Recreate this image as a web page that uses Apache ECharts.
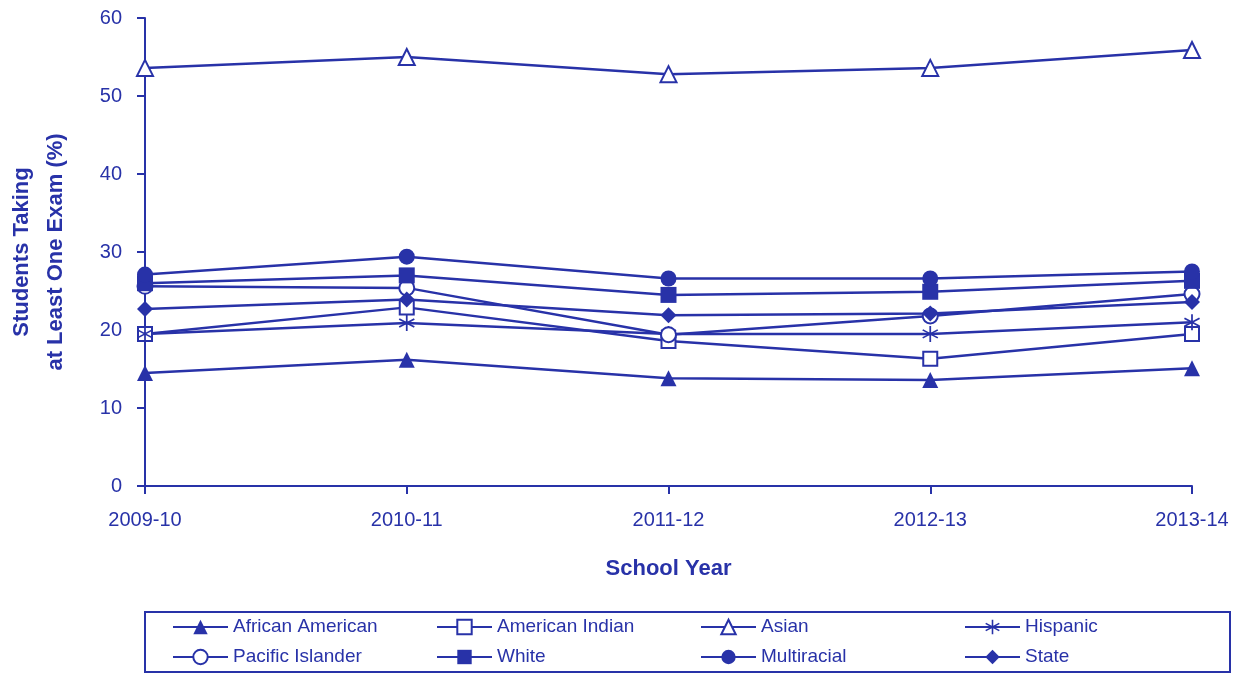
<!DOCTYPE html>
<html>
<head>
<meta charset="utf-8">
<script src="https://cdn.jsdelivr.net/npm/echarts@6/dist/echarts.min.js"></script>
<style>
html,body{margin:0;padding:0;background:#fff;}
#chart{width:1242px;height:673px;}
</style>
</head>
<body>
<div id="chart"></div>
<script>
const categories = ['2009-10', '2010-11', '2011-12', '2012-13', '2013-14'];
const africanAmerican = [14.5, 16.2, 13.8, 13.6, 15.1];
const americanIndian = [19.5, 22.9, 18.6, 16.3, 19.5];
const asian = [53.6, 55.0, 52.8, 53.6, 55.9];
const hispanic = [19.5, 20.9, 19.5, 19.5, 21.0];
const pacificIslander = [25.6, 25.4, 19.4, 21.8, 24.6];
const white = [26.0, 27.0, 24.5, 24.9, 26.3];
const multiracial = [27.1, 29.4, 26.6, 26.6, 27.5];
const stateAvg = [22.7, 23.9, 21.9, 22.1, 23.6];
const yTicks = [0, 10, 20, 30, 40, 50, 60];

const C = '#2832A8';
const FONT = '"Liberation Sans", Arial, sans-serif';
const asterisk = 'path://M9 0 L11 0 L11 20 L9 20 Z M0.84 5.87 L1.84 4.13 L19.16 14.13 L18.16 15.87 Z M1.84 15.87 L0.84 14.13 L18.16 4.13 L19.16 5.87 Z';

function mk(name, data, symbol, size, hollow) {
  return {
    name: name, type: 'line', data: data,
    symbol: symbol, symbolSize: size, showAllSymbol: true,
    lineStyle: { color: C, width: 2.5 },
    itemStyle: hollow ? { color: '#fff', borderColor: C, borderWidth: 2 } : { color: C, borderColor: C, borderWidth: 0 },
    emphasis: { disabled: true },
    z: 2
  };
}

const chart = echarts.init(document.getElementById('chart'));
chart.setOption({
  animation: false,
  textStyle: { fontFamily: FONT, color: C },
  grid: { left: 145, right: 50, top: 18, bottom: 187, containLabel: false, outerBoundsMode: 'none' },
  legend: {
    left: 145, top: 612, width: 1060,
    orient: 'horizontal',
    padding: [0, 2, 0, 27],
    itemGap: 0, itemWidth: 55, itemHeight: 18,
    borderColor: C, borderWidth: 2,
    textStyle: { color: C, fontSize: 19, fontFamily: FONT, width: 203, lineHeight: 30 },
    data: ['African American', 'American Indian', 'Asian', 'Hispanic', 'Pacific Islander', 'White', 'Multiracial', 'State']
  },
  xAxis: {
    type: 'category', data: categories, boundaryGap: false,
    name: 'School Year', nameLocation: 'middle', nameGap: 72,
    nameTextStyle: { color: C, fontSize: 22, fontWeight: 'bold', fontFamily: FONT },
    axisLine: { lineStyle: { color: C, width: 2 } },
    axisTick: { show: true, length: 8, lineStyle: { color: C, width: 2 }, alignWithLabel: true },
    axisLabel: { color: C, fontSize: 20, margin: 24, fontFamily: FONT },
    splitLine: { show: false }
  },
  yAxis: {
    type: 'value', min: yTicks[0], max: yTicks[yTicks.length - 1], interval: 10,
    name: 'Students Taking\nat Least One Exam (%)', nameLocation: 'middle', nameGap: 72,
    nameTextStyle: { color: C, fontSize: 22, fontWeight: 'bold', fontFamily: FONT, lineHeight: 34 },
    axisLine: { show: true, lineStyle: { color: C, width: 2 } },
    axisTick: { show: true, length: 8, lineStyle: { color: C, width: 2 } },
    axisLabel: { color: C, fontSize: 20, margin: 23, fontFamily: FONT },
    splitLine: { show: false }
  },
  series: [
    mk('African American', africanAmerican, 'triangle', 16, false),
    mk('American Indian', americanIndian, 'rect', 14, true),
    mk('Asian', asian, 'triangle', 16, true),
    mk('Hispanic', hispanic, asterisk, 16, false),
    mk('Pacific Islander', pacificIslander, 'circle', 15, true),
    mk('White', white, 'rect', 16, false),
    mk('Multiracial', multiracial, 'circle', 16, false),
    mk('State', stateAvg, 'diamond', 16, false)
  ]
});
</script>
</body>
</html>
